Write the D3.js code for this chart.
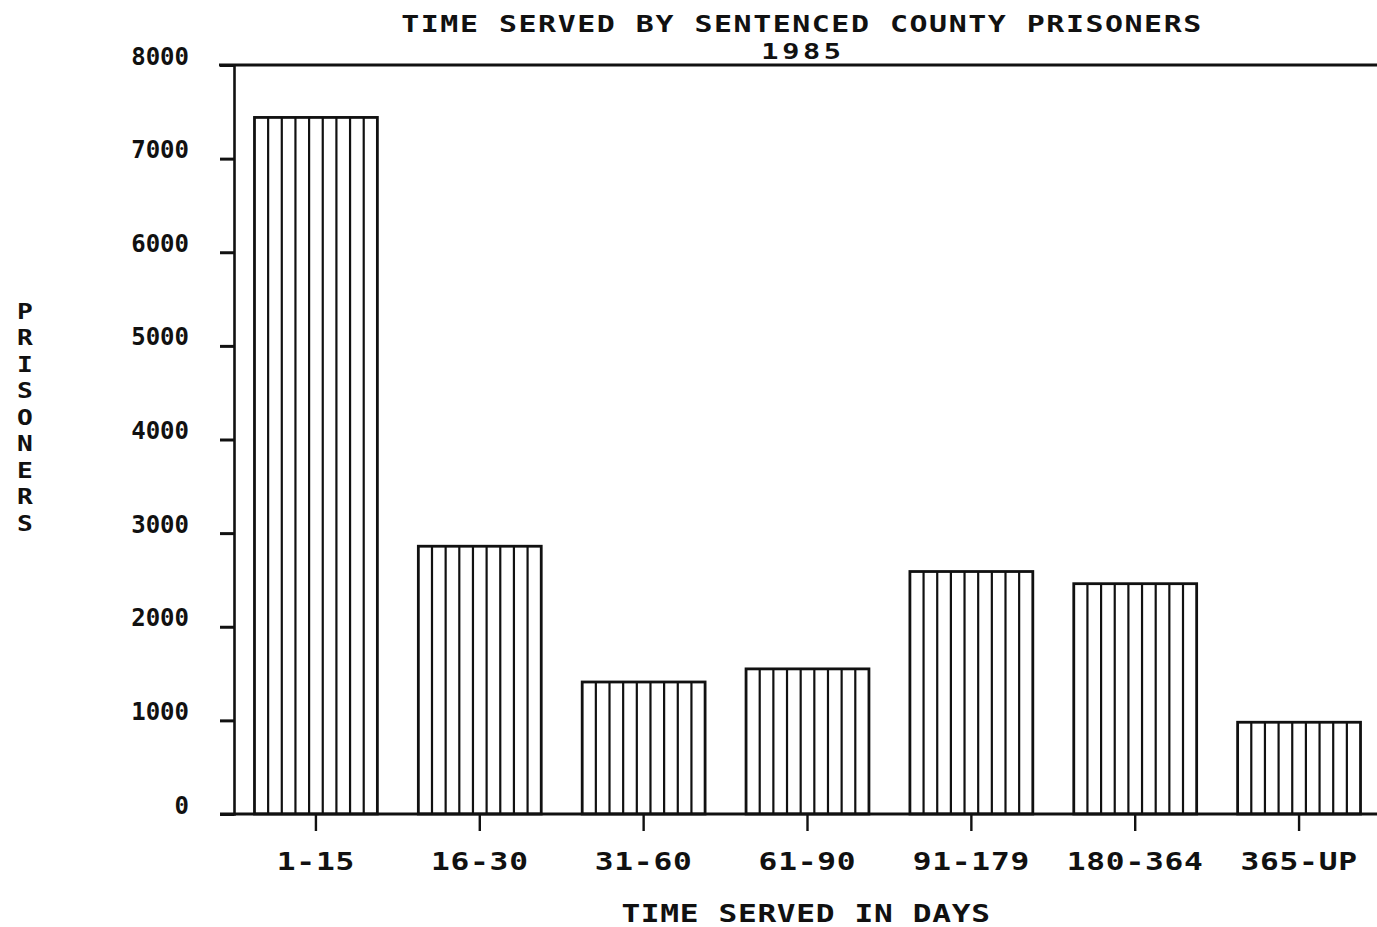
<!DOCTYPE html>
<html>
<head>
<meta charset="utf-8">
<script src="https://cdn.jsdelivr.net/npm/d3@7"></script>
<style>
  body { margin: 0; background: #fff; }
  svg { display: block; }
  text { font-family: "DejaVu Sans Mono", "Liberation Mono", monospace; font-weight: bold; fill: #111; }
</style>
</head>
<body>
<div id="chart"></div>
<script>

// categories (time served in days) and number of prisoners
var categories = ["1-15", "16-30", "31-60", "61-90", "91-179", "180-364", "365-UP"];
var prisoners  = [7440, 2860, 1410, 1550, 2590, 2460, 980];
var yTicks     = [0, 1000, 2000, 3000, 4000, 5000, 6000, 7000, 8000];

var data = categories.map(function(c, i) { return {cat: c, val: prisoners[i]}; });

// set the dimensions and margins of the graph
var W = 1377, H = 927;
var margin = {top: 65, left: 234},
    width  = 1147,
    height = 749;

var ink = "#111";
var stretch = 1.3;   // plotter lettering is wider than the mono font

// set the ranges
var x = d3.scaleBand()
          .domain(categories)
          .range([0, width])
          .paddingInner(0.25)
          .paddingOuter(0.125);
var y = d3.scaleLinear()
          .domain([0, 8000])
          .range([height, 0]);

var svg = d3.select("#chart").append("svg")
    .attr("width", W)
    .attr("height", H);

var g = svg.append("g")
    .attr("transform", "translate(" + margin.left + "," + margin.top + ")");

// bars with vertical hatching
var bw = x.bandwidth();
var bars = g.selectAll(".bar")
    .data(data)
  .enter().append("g")
    .attr("class", "bar");

bars.append("rect")
    .attr("x", function(d) { return x(d.cat); })
    .attr("y", function(d) { return y(d.val); })
    .attr("width", bw)
    .attr("height", function(d) { return height - y(d.val); })
    .attr("fill", "#fff")
    .attr("stroke", ink)
    .attr("stroke-width", 2.8);

bars.each(function(d) {
  d3.select(this).selectAll("line")
      .data(d3.range(1, 9))
    .enter().append("line")
      .attr("x1", function(i) { return x(d.cat) + i * bw / 9; })
      .attr("x2", function(i) { return x(d.cat) + i * bw / 9; })
      .attr("y1", y(d.val))
      .attr("y2", height)
      .attr("stroke", ink)
      .attr("stroke-width", 2.2);
});

// top frame line and baseline
g.append("line")
    .attr("x1", -15).attr("x2", W)
    .attr("y1", y(8000)).attr("y2", y(8000))
    .attr("stroke", ink).attr("stroke-width", 3);
g.append("line")
    .attr("x1", -14).attr("x2", W)
    .attr("y1", y(0)).attr("y2", y(0))
    .attr("stroke", ink).attr("stroke-width", 3);

// y axis
var yAxis = g.append("g")
    .call(d3.axisLeft(y)
      .tickValues(yTicks)
      .tickSize(14)
      .tickPadding(31)
      .tickFormat(d3.format("d")));
yAxis.select(".domain").attr("stroke", ink).attr("stroke-width", 2.6);
yAxis.selectAll(".tick line").attr("stroke", ink).attr("stroke-width", 3);
yAxis.selectAll(".tick text")
    .attr("dy", "0")
    .attr("y", -1)
    .style("font-size", "24px")
    .attr("fill", ink);

// x axis
var xAxis = g.append("g")
    .attr("transform", "translate(0," + height + ")")
    .call(d3.axisBottom(x).tickSize(17).tickSizeOuter(0));
xAxis.select(".domain").remove();
xAxis.selectAll(".tick line").attr("stroke", ink).attr("stroke-width", 2.4);
xAxis.selectAll(".tick text")
    .attr("y", 56)
    .attr("dy", "0")
    .attr("transform", "scale(" + stretch + ",1)")
    .style("font-size", "24px")
    .style("letter-spacing", "0.6px")
    .attr("fill", ink);

// wide lettering helper for titles
function label(cx, cy, txt, size, spacing) {
  svg.append("g")
      .attr("transform", "translate(" + cx + "," + cy + ") scale(" + stretch + ",1)")
    .append("text")
      .attr("text-anchor", "middle")
      .style("font-size", size + "px")
      .style("letter-spacing", spacing + "px")
      .text(txt);
}

label(802, 32, "TIME SERVED BY SENTENCED COUNTY PRISONERS", 23, 1.2);
label(803, 59, "1985", 22, 2.8);
label(806, 922, "TIME SERVED IN DAYS", 24, 0.5);

// vertical stacked y title
var yTitle = svg.append("g")
    .attr("transform", "translate(25,0) scale(1.25,1)")
  .append("text")
    .attr("text-anchor", "middle")
    .style("font-size", "21px");
yTitle.selectAll("tspan")
    .data("PRISONERS".split(""))
  .enter().append("tspan")
    .attr("x", 0)
    .attr("y", function(c, i) { return 319 + i * 26.5; })
    .text(function(c) { return c; });

</script>
</body>
</html>
